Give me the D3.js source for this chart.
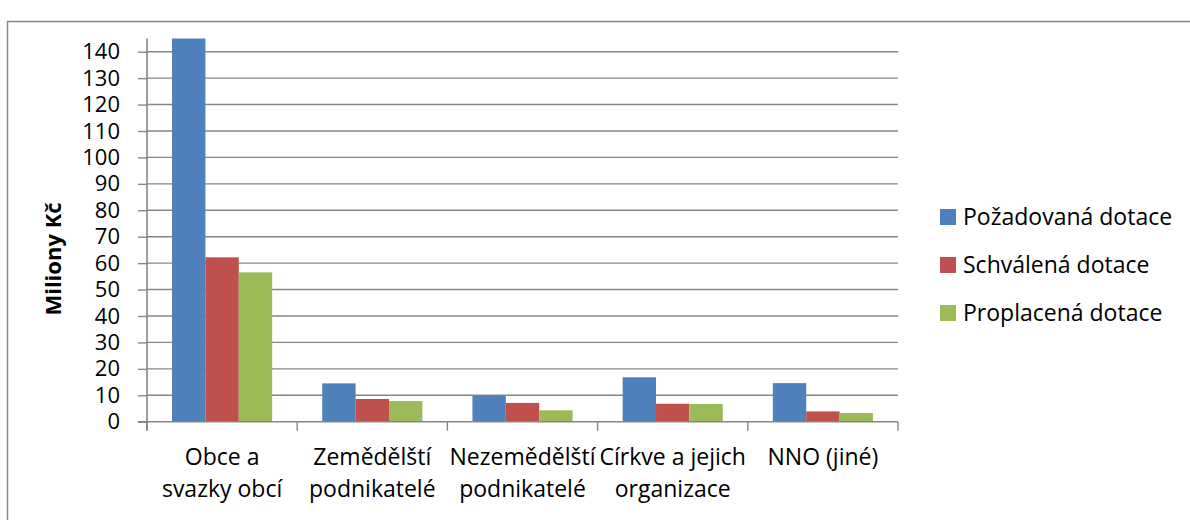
<!DOCTYPE html>
<html>
<head>
<meta charset="utf-8">
<script src="https://cdn.jsdelivr.net/npm/d3@7"></script>
<style>
  body { margin: 0; background: #fff; }
  svg { display: block; font-family: "Open Sans", Lato, sans-serif; }
</style>
</head>
<body>
<svg id="chart" width="1190" height="520"></svg>
<script>
// data (Miliony Kč)
const categories = [
  ["Obce a", "svazky obcí"],
  ["Zemědělští", "podnikatelé"],
  ["Nezemědělští", "podnikatelé"],
  ["Církve a jejich", "organizace"],
  ["NNO (jiné)"]
];
const seriesNames = ["Požadovaná dotace", "Schválená dotace", "Proplacená dotace"];
const pozadovana = [145, 14.5, 9.8, 16.8, 14.6];   // first bar runs past the axis top
const schvalena  = [62.2, 8.6, 7.1, 6.8, 3.9];
const proplacena = [56.5, 7.8, 4.3, 6.7, 3.3];
const yTicks = [0, 10, 20, 30, 40, 50, 60, 70, 80, 90, 100, 110, 120, 130, 140];
const colors = ["#4F81BD", "#C0504D", "#9BBB59"];

const series = [pozadovana, schvalena, proplacena];
const grey = "#868686";
const fontSize = "23px";

const svg = d3.select("#chart");

// outer chart frame (bottom/right run off the page)
svg.append("rect")
  .attr("x", 7.5).attr("y", 21.5)
  .attr("width", 1200).attr("height", 520)
  .attr("fill", "none")
  .attr("stroke", grey)
  .attr("stroke-width", 1.5);

const plotL = 147, plotR = 898, plotB = 421.7, plotT = 38.5;

const x0 = d3.scaleBand()
  .domain(d3.range(categories.length))
  .range([plotL, plotR])
  .padding(0);

const gap = x0.bandwidth() / 6;
const x1 = d3.scaleBand()
  .domain(d3.range(series.length))
  .range([gap, x0.bandwidth() - gap])
  .padding(0);

const y = d3.scaleLinear()
  .domain([0, 145])
  .range([plotB, plotT])
  .clamp(true);

// gridlines
svg.append("g")
  .selectAll("line")
  .data(yTicks.filter(d => d > 0))
  .enter()
  .append("line")
  .attr("x1", plotL).attr("x2", plotR)
  .attr("y1", d => y(d)).attr("y2", d => y(d))
  .attr("stroke", grey)
  .attr("stroke-width", 1.4);

// bars
const groups = svg.append("g")
  .selectAll("g")
  .data(categories)
  .enter()
  .append("g")
  .attr("transform", (d, i) => `translate(${x0(i)},0)`);

groups.selectAll("rect")
  .data((d, i) => series.map((s, j) => ({ j, v: s[i] })))
  .enter()
  .append("rect")
  .attr("x", d => x1(d.j))
  .attr("width", x1.bandwidth())
  .attr("y", d => y(d.v))
  .attr("height", d => y(0) - y(d.v))
  .attr("fill", d => colors[d.j]);

// y axis
const yAxis = svg.append("g")
  .attr("transform", `translate(${plotL},0)`)
  .call(d3.axisLeft(y).tickValues(yTicks).tickSize(9).tickPadding(18).tickSizeOuter(0));
yAxis.select(".domain").remove();
yAxis.selectAll(".tick line").attr("stroke", grey).attr("stroke-width", 1.4);
yAxis.selectAll(".tick text")
  .attr("fill", "#000")
  .style("font-size", "22px")
  .style("font-family", "'Open Sans', sans-serif");
yAxis.append("line")
  .attr("x1", 0).attr("x2", 0)
  .attr("y1", plotT).attr("y2", plotB + 9)
  .attr("stroke", grey).attr("stroke-width", 1.6);

// x axis line and ticks
svg.append("line")
  .attr("x1", plotL - 9).attr("x2", plotR)
  .attr("y1", plotB).attr("y2", plotB)
  .attr("stroke", grey).attr("stroke-width", 1.6);
svg.append("g")
  .selectAll("line")
  .data(d3.range(categories.length + 1))
  .enter()
  .append("line")
  .attr("x1", i => plotL + i * x0.bandwidth())
  .attr("x2", i => plotL + i * x0.bandwidth())
  .attr("y1", plotB).attr("y2", plotB + 9)
  .attr("stroke", grey).attr("stroke-width", 1.4);

// category labels
const labels = svg.append("g")
  .selectAll("text")
  .data(categories)
  .enter()
  .append("text")
  .attr("text-anchor", "middle")
  .style("font-size", fontSize)
  .attr("fill", "#000");
labels.selectAll("tspan")
  .data((d, i) => d.map((t, k) => ({ t, k, i })))
  .enter()
  .append("tspan")
  .attr("x", d => x0(d.i) + x0.bandwidth() / 2)
  .attr("y", d => 465 + d.k * 32)
  .text(d => d.t);

// y axis title
svg.append("text")
  .attr("transform", "translate(61,259) rotate(-90)")
  .attr("text-anchor", "middle")
  .style("font-size", "22px")
  .style("font-weight", "bold")
  .text("Miliony Kč");

// legend
const legend = svg.append("g")
  .selectAll("g")
  .data(seriesNames)
  .enter()
  .append("g")
  .attr("transform", (d, i) => `translate(940,${217 + i * 48})`);
legend.append("rect")
  .attr("x", 0).attr("y", -8)
  .attr("width", 16).attr("height", 16)
  .attr("fill", (d, i) => colors[i]);
legend.append("text")
  .attr("x", 23).attr("y", 8)
  .style("font-size", fontSize)
  .text(d => d);
</script>
</body>
</html>
